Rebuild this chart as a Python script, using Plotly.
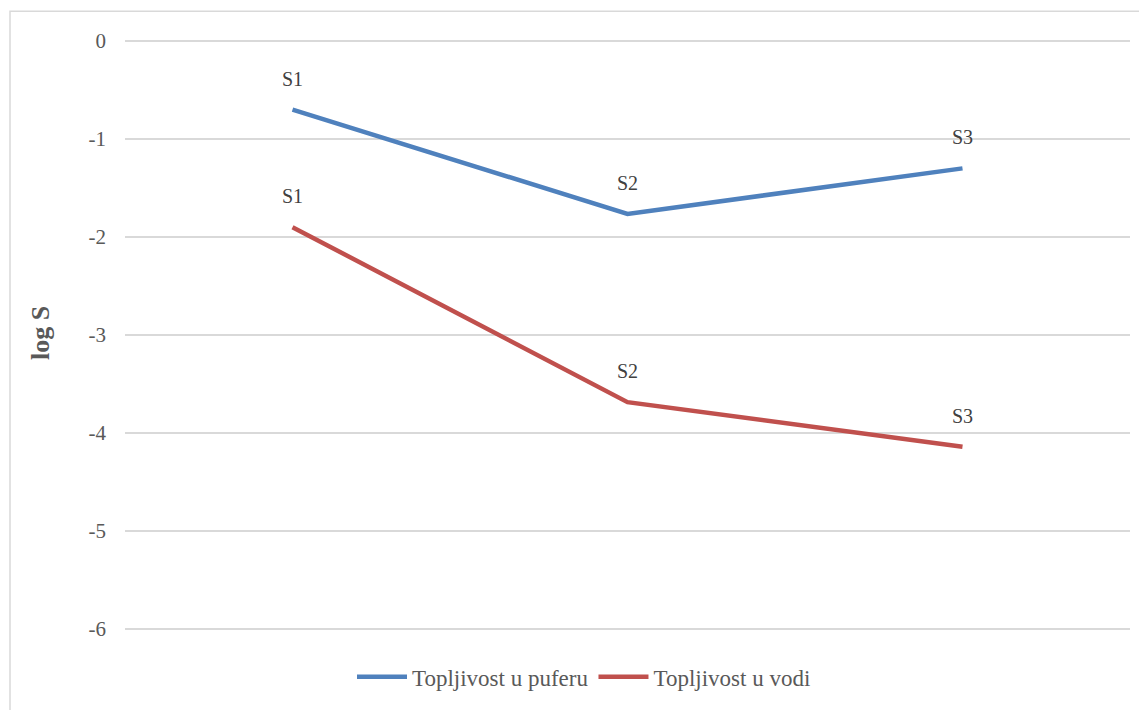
import plotly.graph_objects as go

categories = ["S1", "S2", "S3"]
pufer = [-0.70, -1.765, -1.30]
voda = [-1.90, -3.685, -4.14]
series_names = ["Topljivost u puferu", "Topljivost u vodi"]
colors = ["#4F81BD", "#C0504D"]
y_ticks = [0, -1, -2, -3, -4, -5, -6]

# page body has an 8px margin, so the figure is drawn 8px right/down
OFF = 8
W, H = 1147 - OFF, 710 - OFF
ml, mr, mt, mb = 125 - OFF, 17, 29, 73
pw, ph = W - ml - mr, H - mt - mb

fig = go.Figure()
for name, vals, c in zip(series_names, [pufer, voda], colors):
    fig.add_trace(go.Scatter(x=categories, y=vals, mode="lines", name=name,
                             line=dict(color=c, width=4.5)))

annotations = []
for vals in [pufer, voda]:
    for cat, v in zip(categories, vals):
        annotations.append(dict(x=cat, y=v, xref="x", yref="y", text=cat, showarrow=False,
                                yshift=31, font=dict(family="Liberation Serif", size=20, color="#404040")))

annotations.append(dict(x=(40 - OFF - ml) / pw, y=(H - mb - (335 - OFF)) / ph, xref="paper", yref="paper",
                        text="<b>log S</b>", textangle=-90, showarrow=False, xanchor="center", yanchor="middle",
                        font=dict(family="Liberation Serif", size=26, color="#595959")))

fig.update_layout(
    width=W, height=H,
    margin=dict(l=ml, r=mr, t=mt, b=mb),
    paper_bgcolor="white", plot_bgcolor="white",
    showlegend=True,
    legend=dict(orientation="h", x=(584 - OFF - ml) / pw, xanchor="center",
                y=(H - mb - (681 - OFF)) / ph, yanchor="middle",
                font=dict(family="Liberation Serif", size=23, color="#595959"),
                itemwidth=50, tracegroupgap=0),
    annotations=annotations,
    shapes=[dict(type="rect", xref="paper", yref="paper",
                 x0=(10 - OFF - ml) / pw, x1=(W + 20 - ml) / pw,
                 y0=(H - mb - (H + 20)) / ph, y1=(H - mb - (11 - OFF)) / ph,
                 line=dict(color="#D9D9D9", width=1.5), layer="below")],
)
fig.update_xaxes(type="category", range=[-0.5, 2.5], showticklabels=False, showgrid=False,
                 zeroline=False, showline=False, ticks="")
fig.update_yaxes(range=[-6.04, 0.04], tickvals=y_ticks, ticktext=[str(t) for t in y_ticks],
                 showgrid=True, gridcolor="#D9D9D9", gridwidth=1.5, zeroline=False, showline=False,
                 ticklabelstandoff=18,
                 tickfont=dict(family="Liberation Serif", size=21, color="#595959"))

fig.write_html("out.html")
